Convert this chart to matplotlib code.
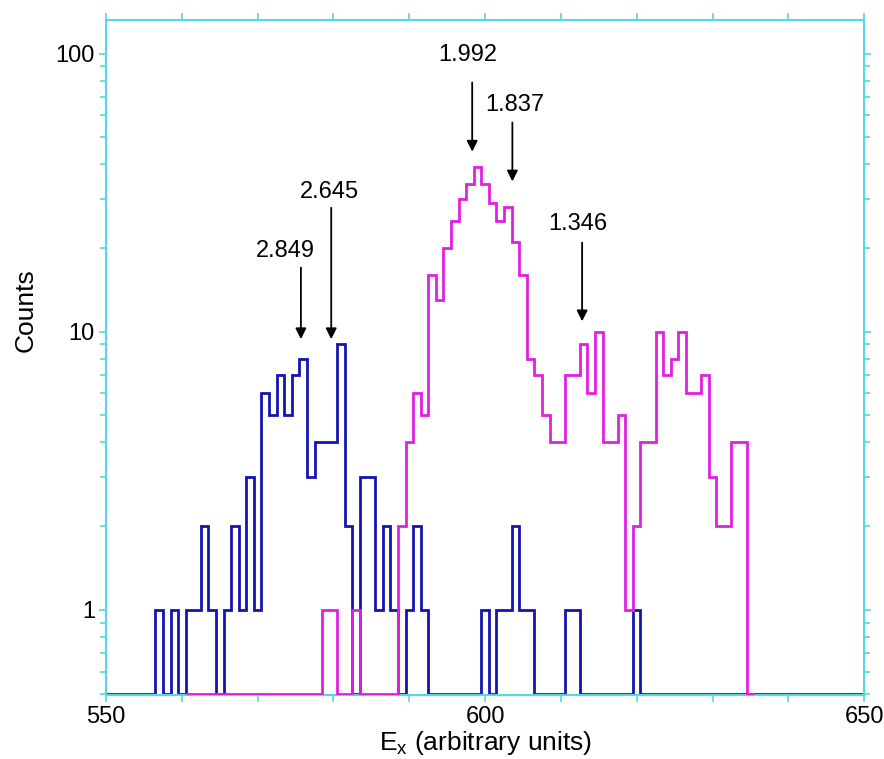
import numpy as np
import matplotlib.pyplot as plt
from matplotlib.ticker import MultipleLocator, FixedLocator, LogLocator, NullFormatter

plt.rcParams['font.family'] = ['Liberation Sans', 'DejaVu Sans']

# histogram data: 1-unit bins, centred on integer E_x values
x_range = (550, 650)
blue_start = 557
blue_counts = [1, 0, 1, 0, 1, 1, 2, 1, 0, 1, 2, 1, 3, 1, 6, 5, 7, 5, 7, 8,
               3, 4, 4, 4, 9, 2, 0, 3, 3, 1, 2, 1, 0, 1, 2, 1,
               0, 0, 0, 0, 0, 0, 0, 1, 0, 1, 1, 2, 1, 1,
               0, 0, 0, 0, 1, 1, 0, 0, 0, 0, 0, 0, 0, 1]
magenta_start = 561
magenta_counts = [0] * 18 + [1, 1, 0, 0, 1, 0, 0, 0, 0, 0,
                  2, 4, 6, 5, 16, 13, 20, 25, 30, 34, 39, 34, 29, 25, 28, 21, 16,
                  8, 7, 5, 4, 4, 7, 7, 9, 6, 10, 4, 4, 5, 1, 2, 4, 4,
                  10, 7, 8, 10, 6, 6, 7, 3, 2, 2, 4, 4, 0]

# peak markers
peak_labels = ['2.849', '2.645', '1.992', '1.837', '1.346']
peak_x = [575.7, 579.7, 598.3, 603.6, 612.8]
arrow_tail = [17.0, 27.9, 78.7, 56.5, 20.9]
arrow_tip = [9.4, 9.4, 44.4, 34.7, 10.9]
label_x = [573.7, 579.5, 597.7, 603.9, 612.2]
label_y = [19.5, 31.8, 99.0, 65.5, 24.3]

floor = 0.5  # zero-count bins drawn on the bottom of the log axis


def full_hist(start, counts):
    centers = np.arange(start, start + len(counts))
    vals = np.zeros(x_range[1] - x_range[0] + 1)
    vals[centers - x_range[0]] = counts
    edges = np.arange(x_range[0] - 0.5, x_range[1] + 1.0, 1.0)
    return edges, vals


fig = plt.figure(figsize=(8.84, 7.59), dpi=100)
ax = fig.add_axes([0.12, 0.0843, 0.8575, 0.8893])

frame = '#55D8E2'
edges, vals = full_hist(blue_start, blue_counts)
ax.stairs(np.maximum(vals, floor), edges, baseline=None, color='#1414B0', lw=2.0, zorder=2)

m_edges = np.arange(magenta_start - 0.5, magenta_start + len(magenta_counts) + 0.5, 1.0)
m_vals = np.array(magenta_counts, dtype=float)
ax.stairs(np.maximum(m_vals, floor), m_edges, baseline=None, color='#E020E0', lw=2.0, zorder=3)

ax.set_yscale('log')
ax.set_xlim(*x_range)
ax.set_ylim(0.494, 132)

for lab, px, t0, t1, lx, ly in zip(peak_labels, peak_x, arrow_tail, arrow_tip, label_x, label_y):
    ax.annotate('', xy=(px, t1), xytext=(px, t0),
                arrowprops=dict(arrowstyle='-|>', color='black', lw=1.3,
                                mutation_scale=16, shrinkA=0, shrinkB=0))
    ax.text(lx, ly, lab, ha='center', va='center', fontsize=17)

ax.xaxis.set_major_locator(MultipleLocator(10))
ax.xaxis.set_major_formatter(lambda v, pos: f'{v:.0f}' if v % 50 == 0 else '')
ax.yaxis.set_major_locator(FixedLocator([1, 10, 100]))
ax.yaxis.set_major_formatter(lambda v, pos: f'{v:.0f}')
ax.yaxis.set_minor_locator(LogLocator(base=10, subs=np.arange(2, 10)))
ax.yaxis.set_minor_formatter(NullFormatter())

ax.tick_params(which='both', direction='out', color=frame, top=True, right=True,
               labelsize=17, length=5, width=1.2, pad=3)
ax.tick_params(which='minor', length=4)
for s in ax.spines.values():
    s.set_color(frame)
    s.set_linewidth(1.5)

ax.set_xlabel(r'E$_{\mathregular{x}}$ (arbitrary units)', fontsize=19)
ax.xaxis.set_label_coords(0.5, -0.05)
ax.set_ylabel('Counts', fontsize=19)
ax.yaxis.set_label_coords(-0.09, 0.57)

fig.savefig('out.png', dpi=100)
